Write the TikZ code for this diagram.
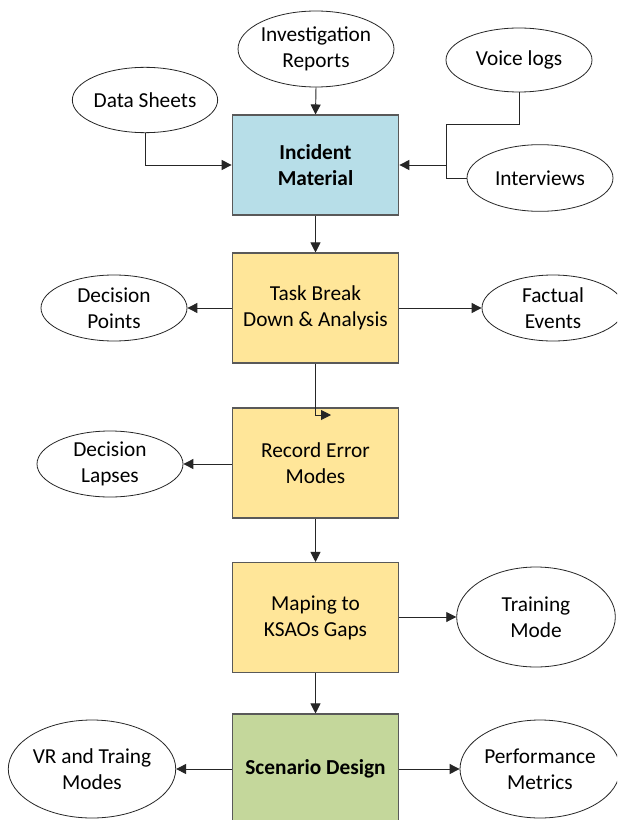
\documentclass[tikz,border=0pt]{standalone}
\usepackage{fontspec}
\setmainfont{Carlito}
\usetikzlibrary{shapes.geometric,arrows.meta}
\definecolor{boxline}{HTML}{595959}
\definecolor{blueFill}{HTML}{B7DEE8}
\definecolor{yellowFill}{HTML}{FFE699}
\definecolor{greenFill}{HTML}{C4D79B}
\tikzset{
  txt/.style={font=\fontsize{16}{19.5}\selectfont},
  oval/.style={ellipse, draw=black!85, line width=0.6pt, fill=white, align=center,
    txt, inner sep=0pt},
  stage/.style={rectangle, draw=boxline, line width=0.8pt, align=center,
    minimum width=125pt, minimum height=82.5pt, txt},
  arr/.style={-{Triangle[length=7.5pt,width=7.5pt]}, line width=0.7pt, draw=black!85},
  link/.style={line width=0.7pt, draw=black!85}
}
\begin{document}
\begin{tikzpicture}[x=0.75pt,y=-0.75pt]
\useasboundingbox (0,0) rectangle (617,820);
\clip (0,0) rectangle (617,820);
\fill[white] (0,0) rectangle (617,820);

% sources
\node[oval, minimum width=109.5pt, minimum height=57pt] (inv) at (316,49) {Investigation\\Reports};
\node[oval, minimum width=109.5pt, minimum height=48pt] (vl) at (519,60) {Voice logs};
\node[oval, minimum width=109pt, minimum height=49pt] (ds) at (145,100) {Data Sheets};
\node[oval, minimum width=109.5pt, minimum height=50pt] (iv) at (540,178) {Interviews};

% main chain
\node[stage, fill=blueFill, minimum height=75pt, font=\fontsize{16}{19.5}\selectfont\bfseries] (inc) at (315.5,165) {Incident\\Material};
\node[stage, fill=yellowFill] (task) at (315.5,308) {Task Break\\Down \& Analysis};
\node[stage, fill=yellowFill] (rec) at (315.5,463) {Record Error\\Modes};
\node[stage, fill=yellowFill] (map) at (315.5,617.5) {Maping to\\KSAOs Gaps};
\node[stage, fill=greenFill, font=\fontsize{16}{19.5}\selectfont\bfseries] (scen) at (315.5,769) {Scenario Design};

% outputs
\node[oval, minimum width=109.5pt, minimum height=49.5pt] (dp) at (114,308) {Decision\\Points};
\node[oval, minimum width=106.5pt, minimum height=49.5pt] (fe) at (553,308) {Factual\\Events};
\node[oval, minimum width=109.5pt, minimum height=49.5pt] (dl) at (110,464) {Decision\\Lapses};
\node[oval, minimum width=119pt, minimum height=75pt] (tm) at (536,617) {Training\\Mode};
\node[oval, minimum width=120pt, minimum height=73.5pt] (vr) at (92,769) {VR and Traing\\Modes};
\node[oval, minimum width=120pt, minimum height=73.5pt] (pm) at (540,769) {Performance\\Metrics};

% junction points
\coordinate (j1) at (446,124);
\coordinate (rtip) at (331,415);

% connectors into the incident material
\draw[arr] (ds.south) |- (inc.west);
\draw[arr] (inv.south) -- (inc.north);
\draw[link] (vl.south) |- (j1) |- (iv.west);
\draw[arr] (j1 |- inc.east) -- (inc.east);

% flow down the chain
\draw[arr] (inc.south) -- (task.north);
\draw[arr] (task.west) -- (task.west -| dp.east);
\draw[arr] (task.east) -- (task.east -| fe.west);
\draw[arr] (task.south) |- (rtip);
\draw[arr] (rec.west |- dl.east) -- (dl.east);
\draw[arr] (rec.south) -- (map.north);
\draw[arr] (map.east |- tm.west) -- (tm.west);
\draw[arr] (map.south) -- (scen.north);
\draw[arr] (scen.west) -- (scen.west -| vr.east);
\draw[arr] (scen.east) -- (scen.east -| pm.west);
\end{tikzpicture}
\end{document}
